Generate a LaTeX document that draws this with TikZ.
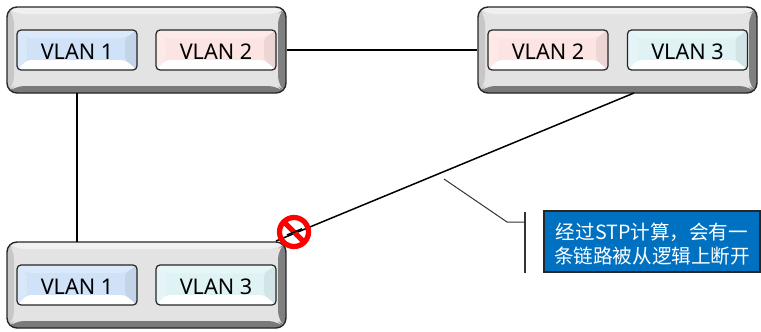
\documentclass[tikz,border=0pt]{standalone}
\usepackage{fontspec}
\setmainfont{Noto Sans}
\newfontfamily\cjk{Noto Sans CJK SC}
\usetikzlibrary{calc}
\definecolor{vblue}{HTML}{CFE2F8}
\definecolor{vpink}{HTML}{FBE4E2}
\definecolor{vcyan}{HTML}{DFF3F5}
\definecolor{calloutblue}{HTML}{0070C0}
\newcommand{\vlanlabel}[1]{\raisebox{-9pt}[0pt][0pt]{#1}}
\tikzset{
 x=1pt,y=-1pt,
 outerbox/.style={draw=black!85,line width=1.4pt,rounded corners=10pt,minimum width=279pt,minimum height=86pt,inner sep=0pt,
  path picture={
   \coordinate (tl) at (path picture bounding box.north west);
   \coordinate (br) at (path picture bounding box.south east);
   \fill[black!11] (tl) rectangle (br);
   \fill[black!6] (tl) -- (br|-tl) -- ($(br|-tl)+(-8,7)$) -- ($(tl)+(7,7)$) -- cycle;
   \fill[black!50] (br|-tl) -- (br) -- ($(br)+(-8,-7)$) -- ($(br|-tl)+(-8,7)$) -- cycle;
   \fill[black!52] (tl|-br) -- (br) -- ($(br)+(-8,-7)$) -- ($(tl|-br)+(7,-7)$) -- cycle;
   \fill[black!22] (tl) -- (tl|-br) -- ($(tl|-br)+(7,-7)$) -- ($(tl)+(7,7)$) -- cycle;
  }},
 vlanbox/.style={draw=black!85,line width=1.2pt,rounded corners=4pt,minimum width=120pt,minimum height=40pt,inner sep=0pt,font=\fontsize{21.6}{24}\selectfont,
  path picture={
   \coordinate (tl) at (path picture bounding box.north west);
   \coordinate (br) at (path picture bounding box.south east);
   \fill[#1] (tl) rectangle (br);
   \fill[#1!80!white] (tl) -- (tl|-br) -- ($(tl|-br)+(10,-10)$) -- ($(tl)+(10,8)$) -- cycle;
   \fill[#1!94!black] (br|-tl) -- (br) -- ($(br)+(-12,-10)$) -- ($(br|-tl)+(-12,8)$) -- cycle;
   \fill[#1!75!white] (tl) -- (br|-tl) -- ($(br|-tl)+(-12,8)$) -- ($(tl)+(10,8)$) -- cycle;
   \fill[white] (tl|-br) -- (br) -- ($(br)+(-12,-10)$) -- ($(tl|-br)+(10,-10)$) -- cycle;
  }},
 link/.style={draw=black,line width=1.5pt},
 leader/.style={draw=black!80,line width=1pt},
 callout/.style={draw=black!85,line width=1.2pt,fill=calloutblue,text=white,minimum width=216pt,minimum height=61pt,inner sep=0pt,font=\cjk\fontsize{19.6}{24}\selectfont},
 nosign/.style={draw=red,line width=5.2pt,circle,minimum size=29pt,inner sep=0pt}
}
\begin{document}
\begin{tikzpicture}
\useasboundingbox (0,0) rectangle (761,332);
\node[outerbox] (A) at (146.5,50) {};
\node[outerbox] (B) at (617.5,50) {};
\node[outerbox] (C) at (146.5,285) {};
\coordinate (bfoot) at (634,93);
\coordinate (ccorner) at (276,241);
\coordinate (afoot) at (77,93);
\coordinate (ctop) at (77,242);
\draw[link] (A.east) -- (B.west);
\draw[link] (afoot) -- (ctop);
\draw[link] (bfoot) -- (ccorner);
\node[vlanbox=vblue] (a1) at (77,50) {\vlanlabel{VLAN 1}};
\node[vlanbox=vpink] (a2) at (216,50) {\vlanlabel{VLAN 2}};
\node[vlanbox=vpink] (b1) at (548,50) {\vlanlabel{VLAN 2}};
\node[vlanbox=vcyan] (b2) at (687.5,50) {\vlanlabel{VLAN 3}};
\node[vlanbox=vblue] (c1) at (77,285) {\vlanlabel{VLAN 1}};
\node[vlanbox=vcyan] (c2) at (216,285) {\vlanlabel{VLAN 3}};
\node[nosign] (stop) at (294,232) {};
\draw[red,line width=5.2pt] ($(stop.center)+(-9.5,-9.5)$) -- ($(stop.center)+(9.5,9.5)$);
\draw[black,line width=1.5pt] ($(stop.center)+(-7,3)$) -- ($(stop.center)+(8,-3.2)$);
\coordinate (l0) at (444,179);
\coordinate (l1) at (507,222);
\coordinate (l2) at (525,222);
\coordinate (bt) at (525,212);
\coordinate (bb) at (525,273);
\draw[leader] (l0) -- (l1) -- (l2);
\draw[leader,line width=1.3pt] (bt) -- (bb);
\node[callout] (note) at (652,241.5) {\raisebox{-22pt}[0pt][0pt]{\begin{tabular}[b]{@{}c@{}}经过STP计算，会有一\\条链路被从逻辑上断开\end{tabular}}};
\end{tikzpicture}
\end{document}
